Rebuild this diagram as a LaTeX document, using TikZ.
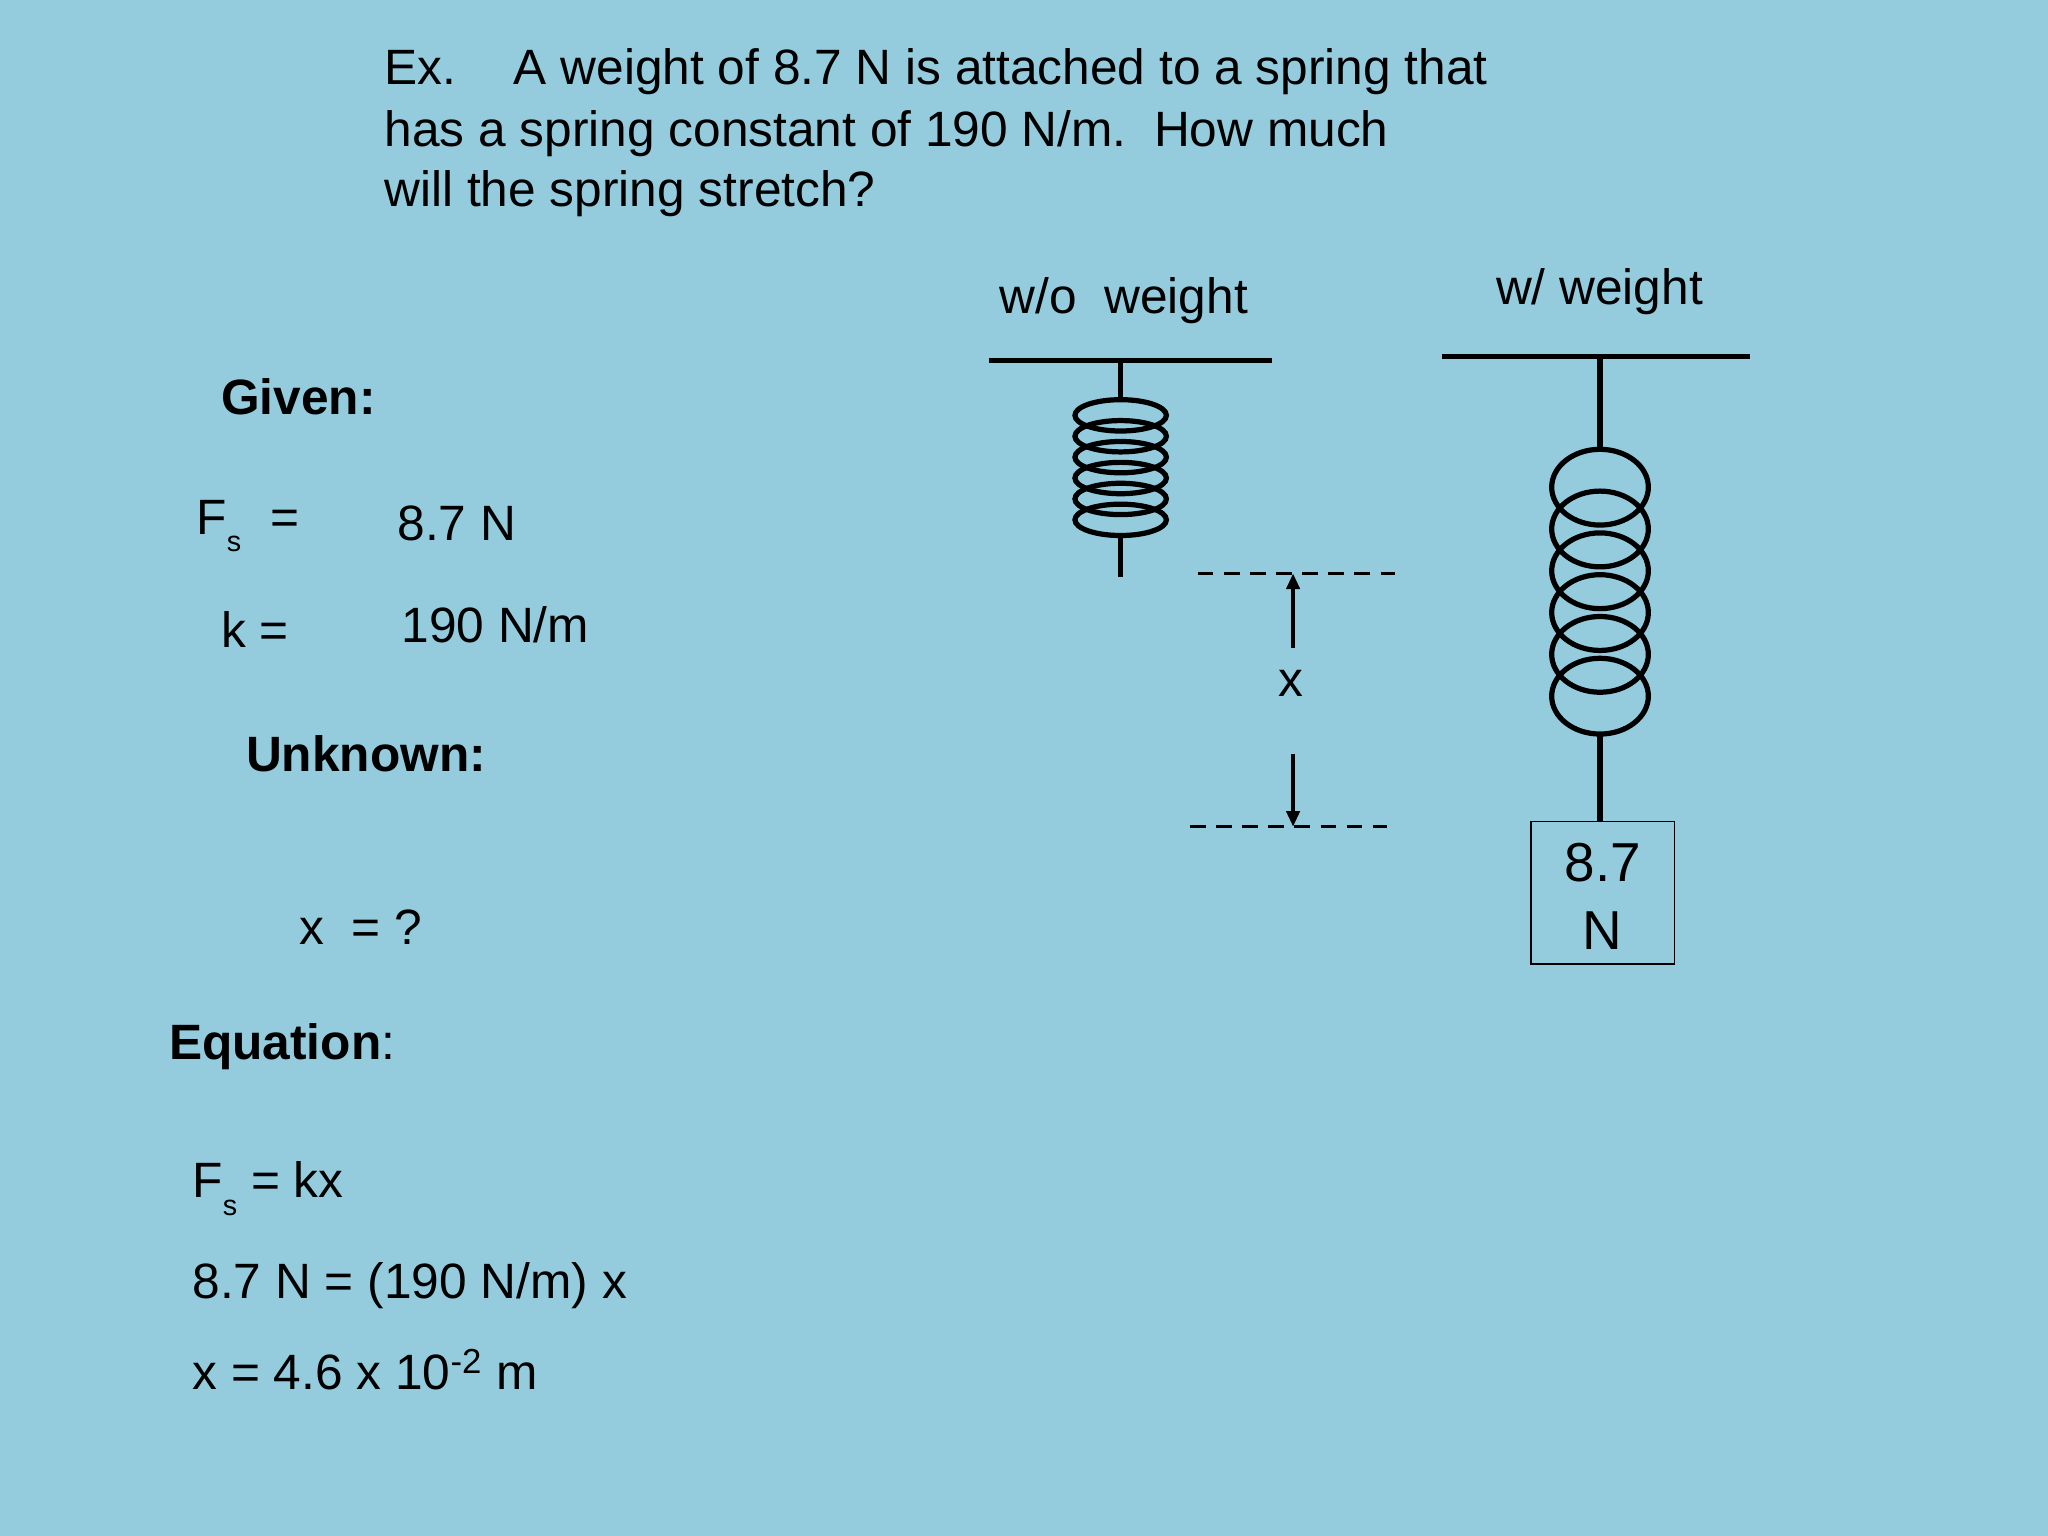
\documentclass[tikz,border=0pt]{standalone}
\usepackage{fontspec}
\setmainfont{Liberation Sans}
\usetikzlibrary{arrows.meta}
\begin{document}
\begin{tikzpicture}[x=0.5pt,y=-0.5pt,
  txt/.style={anchor=base west,inner sep=0pt,font=\fontsize{19}{23}\selectfont},
  bar/.style={line width=2pt},
  coil/.style={line width=2pt},
  dashline/.style={line width=1.2pt,dash pattern=on 6pt off 4pt},
  arr/.style={line width=1.6pt,-{Triangle[length=6pt,width=5pt]}}]
\fill[fill={rgb,255:red,148;green,204;blue,222}] (0,0) rectangle (1568,1176);
\useasboundingbox (0,0) rectangle (1568,1176);
% title
\node[txt] (ex) at (294,65) {Ex.};
\node[txt] (t1) at (393,65) {A weight of 8.7 N is attached to a spring that};
\node[txt] (t2) at (294,112) {has a spring constant of 190 N/m.\ \ How much};
\node[txt] (t3) at (294,158) {will the spring stretch?};
% left column
\node[txt,font=\fontsize{19}{23}\selectfont\bfseries] (given) at (169,317) {Given:};
\node[txt] (fs) at (150,409) {F\raisebox{-0.35em}{\fontsize{11}{11}\selectfont s}};
\node[txt] (eq1) at (207,409) {=};
\node[txt] (fv) at (304,414) {8.7 N};
\node[txt] (k) at (169,496) {k =};
\node[txt] (kv) at (307,492) {190 N/m};
\node[txt,font=\fontsize{19}{23}\selectfont\bfseries] (unk) at (188,591) {Unknown:};
\node[txt] (xq) at (229,723) {x\ \ = ?};
\node[txt] (equ) at (129,811) {\textbf{Equation}:};
\node[txt] (e1) at (147,917) {F\raisebox{-0.35em}{\fontsize{11}{11}\selectfont s} = kx};
\node[txt] (e2) at (147,994) {8.7 N = (190 N/m) x};
\node[txt] (e3) at (147,1064) {x = 4.6 x 10\textsuperscript{-2} m};
% labels
\node[txt] (wo) at (765,240) {w/o\ \ weight};
\node[txt] (ww) at (1145,233) {w/ weight};
% left spring
\draw[bar] (757,276) -- (974,276);
\draw[coil] (858,276) -- (858,308);
\foreach \c in {318,334,350,366,382,398}
  \draw[coil] (858,\c) ellipse [x radius=35, y radius=12];
\draw[coil] (858,410) -- (858,442);
% right spring
\draw[bar] (1104,273) -- (1340,273);
\draw[coil] (1225,273) -- (1225,345);
\foreach \c in {373,405,437,469,501,533}
  \draw[coil] (1225,\c) ellipse [x radius=37, y radius=29];
\draw[coil] (1225,562) -- (1225,629);
\node[draw,line width=0.6pt,minimum width=55pt,minimum height=54.5pt,inner sep=0pt] (box) at (1227,683.5) {};
\node[anchor=base,inner sep=0pt,font=\fontsize{21}{23}\selectfont] (b1) at (1227,675) {8.7};
\node[anchor=base,inner sep=0pt,font=\fontsize{21}{23}\selectfont] (b2) at (1227,727) {N};
% dimension
\draw[dashline] (917,439) -- (1068,439);
\draw[dashline] (911,633) -- (1062,633);
\coordinate (a1s) at (990,496);
\coordinate (a1e) at (990,439);
\coordinate (a2s) at (990,577);
\coordinate (a2e) at (990,633);
\draw[arr] (a1s) -- (a1e);
\draw[arr] (a2s) -- (a2e);
\node[anchor=base,inner sep=0pt,font=\fontsize{19}{23}\selectfont] (xl) at (988,533) {x};
\end{tikzpicture}
\end{document}
